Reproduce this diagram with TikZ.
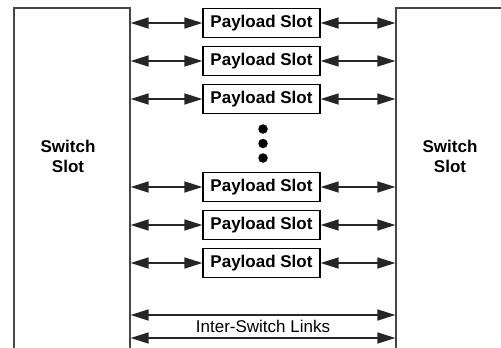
\documentclass[tikz,border=0pt]{standalone}
\usepackage{fontspec}
\setmainfont{Liberation Sans}
\usetikzlibrary{arrows.meta, positioning}
\definecolor{framegray}{RGB}{70,70,70}

\begin{document}
\begin{tikzpicture}[x=1pt, y=-1pt,
            slot/.style={draw=black, line width=1.2pt, minimum width=117pt, minimum height=29pt, inner sep=0pt, font=\bfseries\fontsize{17}{19}\selectfont},
            switchbox/.style={draw=framegray, line width=1.2pt, minimum width=116pt, minimum height=352pt, inner sep=0pt},
            swlabel/.style={align=center, font=\bfseries\fontsize{17}{20}\selectfont},
            dblarr/.style={{Triangle[length=18pt, width=11pt]}-{Triangle[length=18pt, width=11pt]}, line width=1.4pt, black!85},
            dot/.style={circle, fill=black, inner sep=0pt, minimum size=9.5pt}
        ]
            \useasboundingbox (0,0) rectangle (501,348);
            \clip (0,0) rectangle (501,348);

            \node[switchbox] (lsw) at (72,184) {};
            \node[switchbox] (rsw) at (454,184) {};
            \node[swlabel] (llbl) at (68,156) {Switch\\Slot};
            \node[swlabel] (rlbl) at (450,156) {Switch\\Slot};

            \node[slot] (p1) at (261.5,23) {Payload Slot};
            \node[slot] (p2) at (261.5,61) {Payload Slot};
            \node[slot] (p3) at (261.5,99) {Payload Slot};
            \node[slot] (p4) at (261.5,187) {Payload Slot};
            \node[slot] (p5) at (261.5,225) {Payload Slot};
            \node[slot] (p6) at (261.5,263) {Payload Slot};

            \node[dot] (d1) at (263,129) {};
            \node[dot] (d2) at (263,143.5) {};
            \node[dot] (d3) at (263,158) {};

            \draw[dblarr] (lsw.east |- p1) -- (p1.west);
            \draw[dblarr] (p1.east) -- (rsw.west |- p1);
            \draw[dblarr] (lsw.east |- p2) -- (p2.west);
            \draw[dblarr] (p2.east) -- (rsw.west |- p2);
            \draw[dblarr] (lsw.east |- p3) -- (p3.west);
            \draw[dblarr] (p3.east) -- (rsw.west |- p3);
            \draw[dblarr] (lsw.east |- p4) -- (p4.west);
            \draw[dblarr] (p4.east) -- (rsw.west |- p4);
            \draw[dblarr] (lsw.east |- p5) -- (p5.west);
            \draw[dblarr] (p5.east) -- (rsw.west |- p5);
            \draw[dblarr] (lsw.east |- p6) -- (p6.west);
            \draw[dblarr] (p6.east) -- (rsw.west |- p6);

            % inter-switch links
            \coordinate (isl1) at (263,315);
            \coordinate (isl2) at (263,338);
            \draw[dblarr] (lsw.east |- isl1) -- (rsw.west |- isl1);
            \draw[dblarr] (lsw.east |- isl2) -- (rsw.west |- isl2);
            \node[font=\fontsize{17}{19}\selectfont] (isl) at (263,326.5) {Inter-Switch Links};
        \end{tikzpicture}
\end{document}
